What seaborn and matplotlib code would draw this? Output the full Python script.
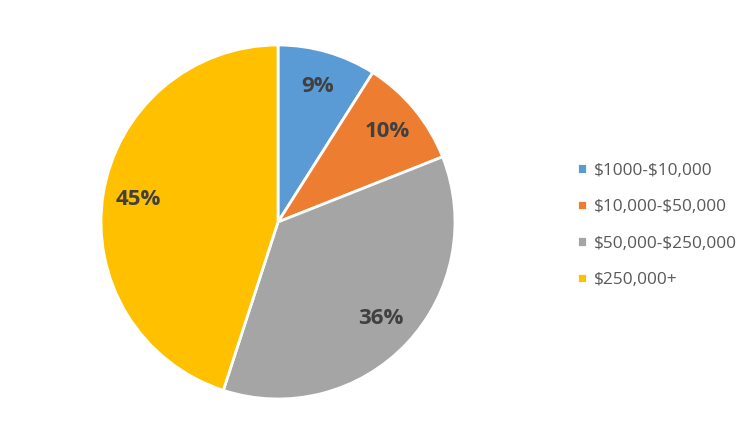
import matplotlib
matplotlib.use('Agg')
import matplotlib.pyplot as plt
import seaborn as sns

# Dados do gráfico
categories = ['$1000-$10,000', '$10,000-$50,000', '$50,000-$250,000', '$250,000+']
shares = [9, 10, 36, 45]
colors = ['#5B9BD5', '#ED7D31', '#A5A5A5', '#FFC000']

sns.set_theme(style='white')
plt.rcParams['font.family'] = ['Open Sans', 'DejaVu Sans']

fig = plt.figure(figsize=(7.5, 4.48), dpi=100)
r = 177
cx, cy = 278, 222
ax = fig.add_axes([(cx - r) / 750, (448 - cy - r) / 448, 2 * r / 750, 2 * r / 448])

wedges, texts, autotexts = ax.pie(
    shares, colors=colors, startangle=90, counterclock=False,
    autopct='%d%%', pctdistance=0.8, radius=1,
    wedgeprops=dict(edgecolor='white', linewidth=2),
    textprops=dict(color='#404040', fontsize=16, fontweight='bold'))
ax.set_xlim(-1, 1)
ax.set_ylim(-1, 1)
ax.set_aspect('equal')
ax.axis('off')

# escapar o $ para não virar mathtext
labels = [c.replace('$', r'\$') for c in categories]
fig.legend(wedges, labels, loc='center left', bbox_to_anchor=(568 / 750, 0.497),
           frameon=False, fontsize=12.4, labelcolor='#595959', handlelength=0.6,
           handleheight=0.6, handletextpad=0.4, labelspacing=1.19, borderpad=0)

fig.savefig('out.png', dpi=100, facecolor='white')
